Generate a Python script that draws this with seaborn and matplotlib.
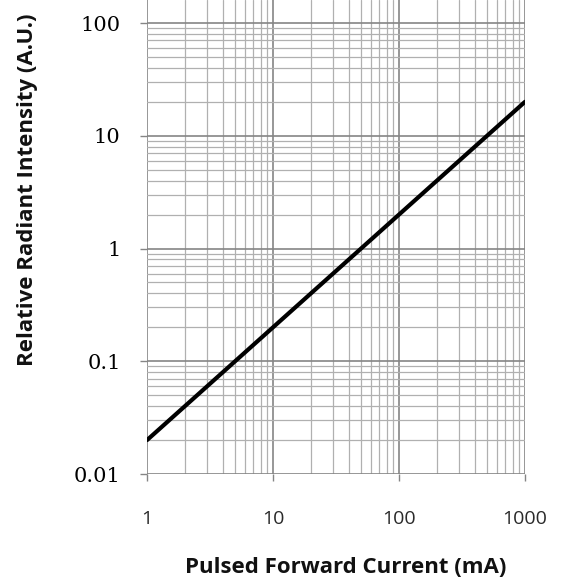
import matplotlib
matplotlib.use("Agg")
import matplotlib.pyplot as plt
import pandas as pd
import seaborn as sns
from matplotlib.ticker import LogLocator, FixedLocator, NullFormatter

# data
current_ma = [1, 1000]
intensity = [0.02, 20]
x_ticks = [1, 10, 100, 1000]
x_labels = ["1", "10", "100", "1000"]
y_ticks = [0.01, 0.1, 1, 10, 100]
y_labels = ["0.01", "0.1", "1", "10", "100"]

df = pd.DataFrame({"current": current_ma, "intensity": intensity})

sns.set_theme(style="white")
plt.rcParams["font.family"] = ["Open Sans", "DejaVu Sans"]

fig = plt.figure(figsize=(5.67, 5.85), dpi=100)
ax = fig.add_axes([0.2593, 0.1897, 0.9259 - 0.2593, 0.8103])

sns.lineplot(data=df, x="current", y="intensity", color="black", linewidth=3, ax=ax)
ax.set_xscale("log")
ax.set_yscale("log")
ax.set_xlim(1, 1000)
ax.set_ylim(0.01, 10 ** 2.204)

ax.xaxis.set_major_locator(FixedLocator(x_ticks))
ax.yaxis.set_major_locator(FixedLocator(y_ticks))
ax.set_xticklabels(x_labels)
ax.set_yticklabels(y_labels)
ax.xaxis.set_minor_locator(LogLocator(base=10, subs=range(2, 10), numticks=20))
ax.yaxis.set_minor_locator(LogLocator(base=10, subs=range(2, 10), numticks=20))
ax.xaxis.set_minor_formatter(NullFormatter())
ax.yaxis.set_minor_formatter(NullFormatter())

ax.grid(True, which="major", color="#858585", linewidth=1.2)
ax.grid(True, which="minor", color="#b0b0b0", linewidth=0.9)
ax.set_axisbelow(True)

for s in ["top", "right", "left", "bottom"]:
    ax.spines[s].set_visible(False)

ax.tick_params(axis="both", which="major", length=5, width=1, color="#858585",
               bottom=True, left=True)
ax.tick_params(axis="both", which="minor", length=0)
ax.tick_params(axis="x", pad=21, labelsize=14, labelcolor="#2a2a2a")
ax.tick_params(axis="y", pad=14, labelsize=15, labelcolor="black")
for lab in ax.get_yticklabels():
    lab.set_family(["DejaVu Serif"])
for lab in ax.get_xticklabels():
    lab.set_family(["Open Sans", "DejaVu Sans"])

ax.set_xlabel("Pulsed Forward Current (mA)", fontsize=16, fontweight="bold",
              color="#111111")
ax.set_ylabel("Relative Radiant Intensity (A.U.)", fontsize=16, fontweight="bold",
              color="#111111")
# label centres from the reference, pixels -> axes fraction
ax.xaxis.set_label_coords((346 - 147) / 378, (474 - 567) / 474)
ax.xaxis.label.set_va("center")
ax.yaxis.set_label_coords((27 - 147) / 378, (474 - 190) / 474)
ax.yaxis.label.set_va("center")

fig.savefig("out.png", dpi=100)
